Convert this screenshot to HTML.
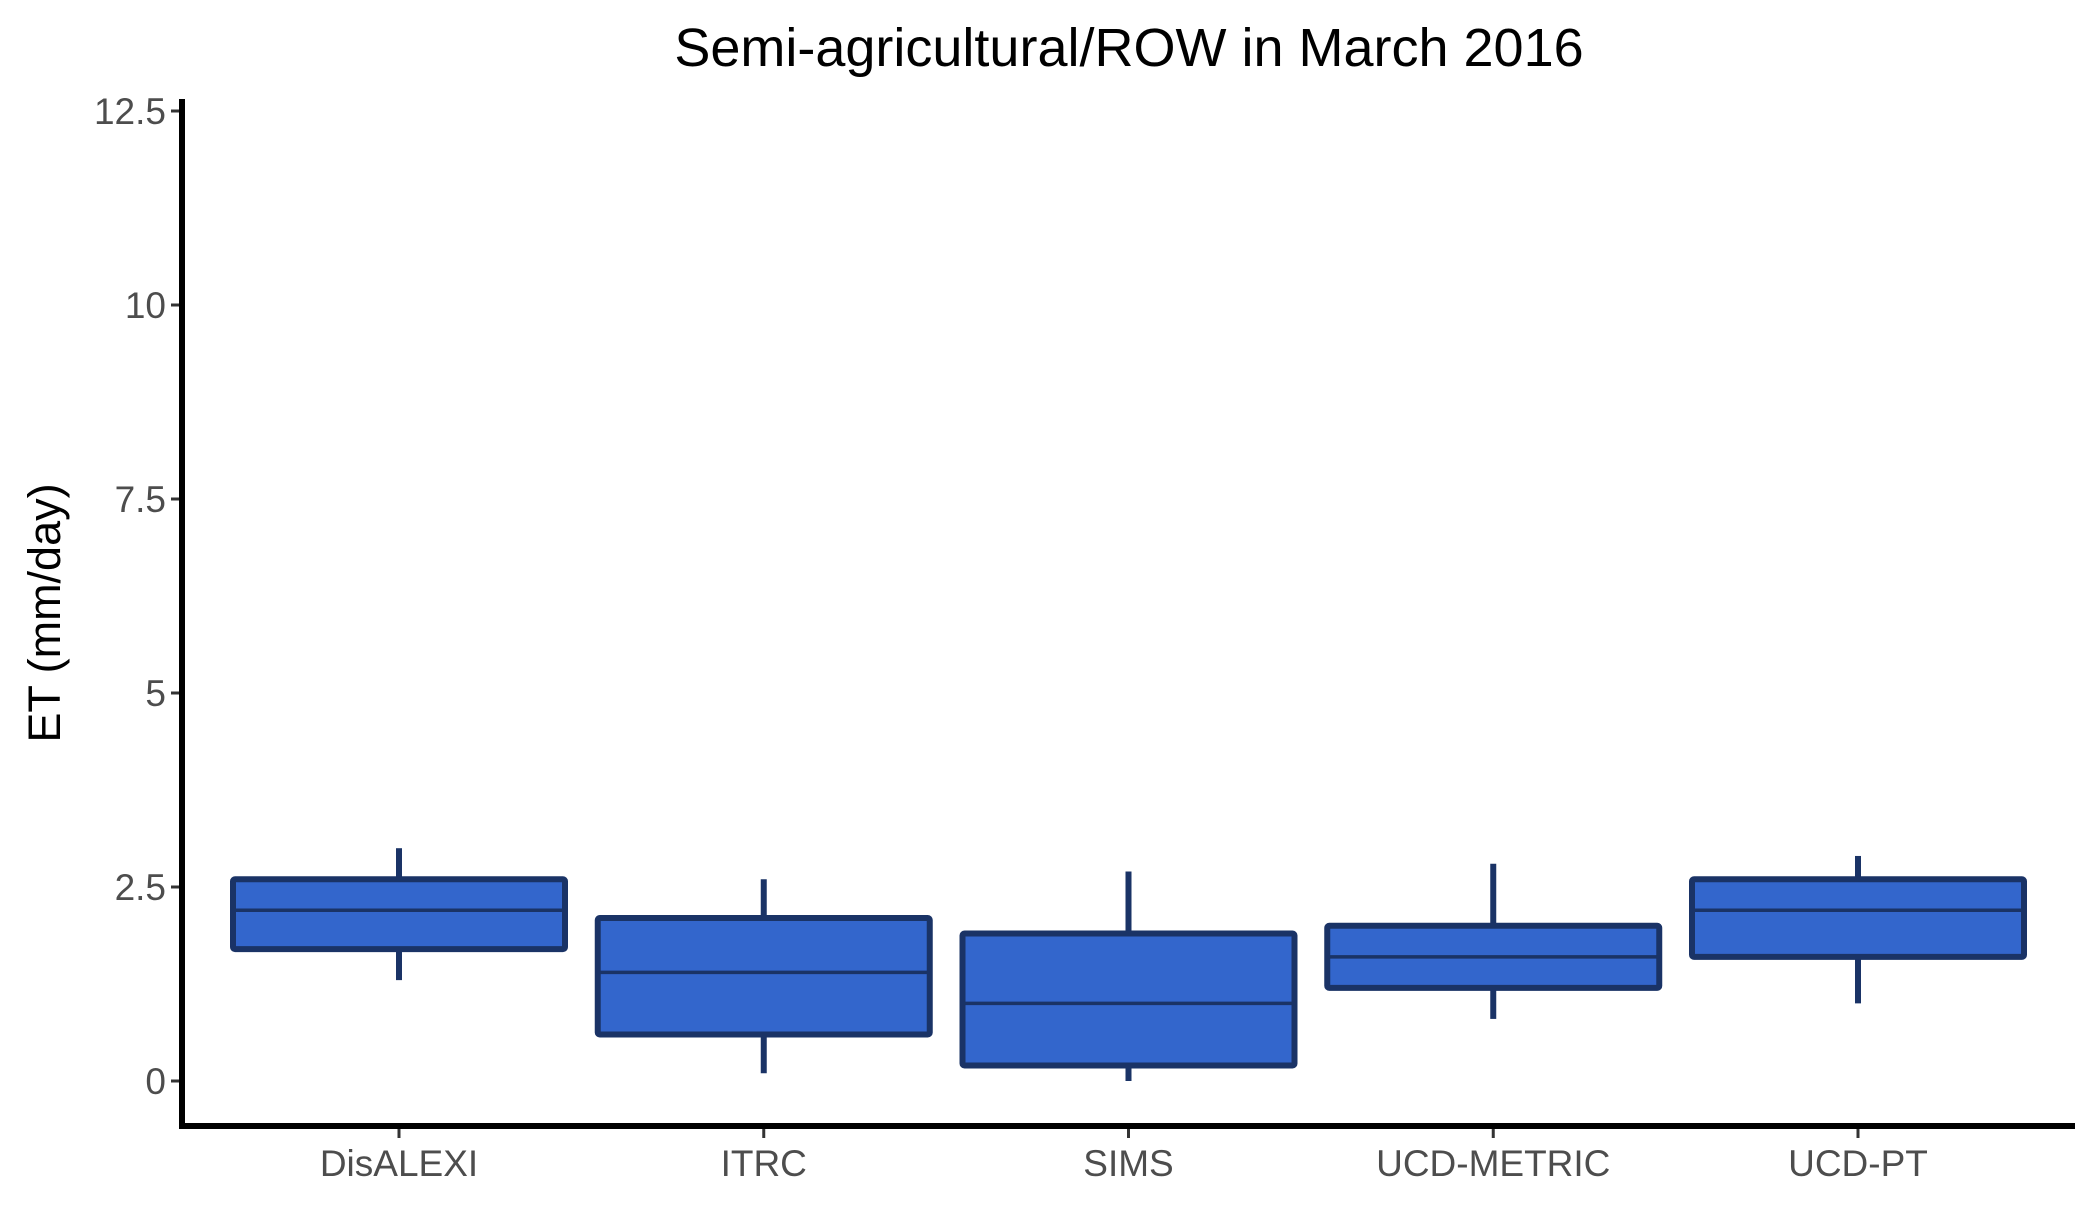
<!DOCTYPE html>
<html><head><meta charset="utf-8"><style>
body{margin:0;background:#fff}
svg text{font-family:"Liberation Sans",Arial,sans-serif}
</style></head><body>
<svg id="chart" width="2100" height="1200" viewBox="0 0 2100 1200" xmlns="http://www.w3.org/2000/svg">
<text x="1129" y="66" font-size="54" text-anchor="middle" fill="#000">Semi-agricultural/ROW in March 2016</text>
<text transform="translate(60,613) rotate(-90)" font-size="45" text-anchor="middle" fill="#000">ET (mm/day)</text>
<g id="plot"></g>
</svg>
<script>
const categories = ["DisALEXI","ITRC","SIMS","UCD-METRIC","UCD-PT"];
const whiskerLow = [1.3,0.1,0.0,0.8,1.0];
const q1 = [1.7,0.6,0.2,1.2,1.6];
const median = [2.2,1.4,1.0,1.6,2.2];
const q3 = [2.6,2.1,1.9,2.0,2.6];
const whiskerHigh = [3.0,2.6,2.7,2.8,2.9];
const yTicks = [0,2.5,5,7.5,10,12.5];
const yTickLabels = ["0","2.5","5","7.5","10","12.5"];

const NS="http://www.w3.org/2000/svg";
const g=document.getElementById('plot');
const y0=1081, yPerUnit=(1081-111)/12.5;
const yScale=v=>y0-v*yPerUnit;
const xLeft=182, xStep=364.75, xFirst=399;
const xScale=i=>xFirst+i*xStep;
const halfW=166;
const axisY=1126;
function mk(tag,attrs){const e=document.createElementNS(NS,tag);for(const k in attrs)e.setAttribute(k,attrs[k]);g.appendChild(e);return e;}

yTicks.forEach((t,i)=>{
  const yy=yScale(t);
  const tk=mk('line',{x1:xLeft-11,x2:xLeft,y1:yy,y2:yy,stroke:'#333','stroke-width':3});
  
  
  const lb=mk('text',{x:xLeft-16,y:yy+13,'font-size':37,'text-anchor':'end',fill:'#4d4d4d'});
  lb.textContent=yTickLabels[i];
  
  
});

categories.forEach((c,i)=>{
  const cx=xScale(i);
  const w1=mk('line',{x1:cx,x2:cx,y1:yScale(whiskerHigh[i]),y2:yScale(q3[i]),stroke:'#1a3366','stroke-width':6});
  
  
  const w2=mk('line',{x1:cx,x2:cx,y1:yScale(q1[i]),y2:yScale(whiskerLow[i]),stroke:'#1a3366','stroke-width':6});
  
  
  const b=mk('rect',{x:cx-halfW,y:yScale(q3[i]),width:2*halfW,height:yScale(q1[i])-yScale(q3[i]),fill:'#3366cc',stroke:'#1a3366','stroke-width':6,rx:2});
  
  
  const m=mk('line',{x1:cx-halfW,x2:cx+halfW,y1:yScale(median[i]),y2:yScale(median[i]),stroke:'#1a3366','stroke-width':3.5});
  
  
  const tk=mk('line',{x1:cx,x2:cx,y1:axisY,y2:axisY+12,stroke:'#333','stroke-width':3});
  
  
  const lb=mk('text',{x:cx,y:axisY+50,'font-size':37,'text-anchor':'middle',fill:'#4d4d4d'});
  lb.textContent=c;
  
  
});

const ya=mk('line',{x1:xLeft,x2:xLeft,y1:99,y2:axisY+3,stroke:'#000','stroke-width':6});


const xa=mk('line',{x1:xLeft-3,x2:2075,y1:axisY,y2:axisY,stroke:'#000','stroke-width':6});


</script>
</body></html>
